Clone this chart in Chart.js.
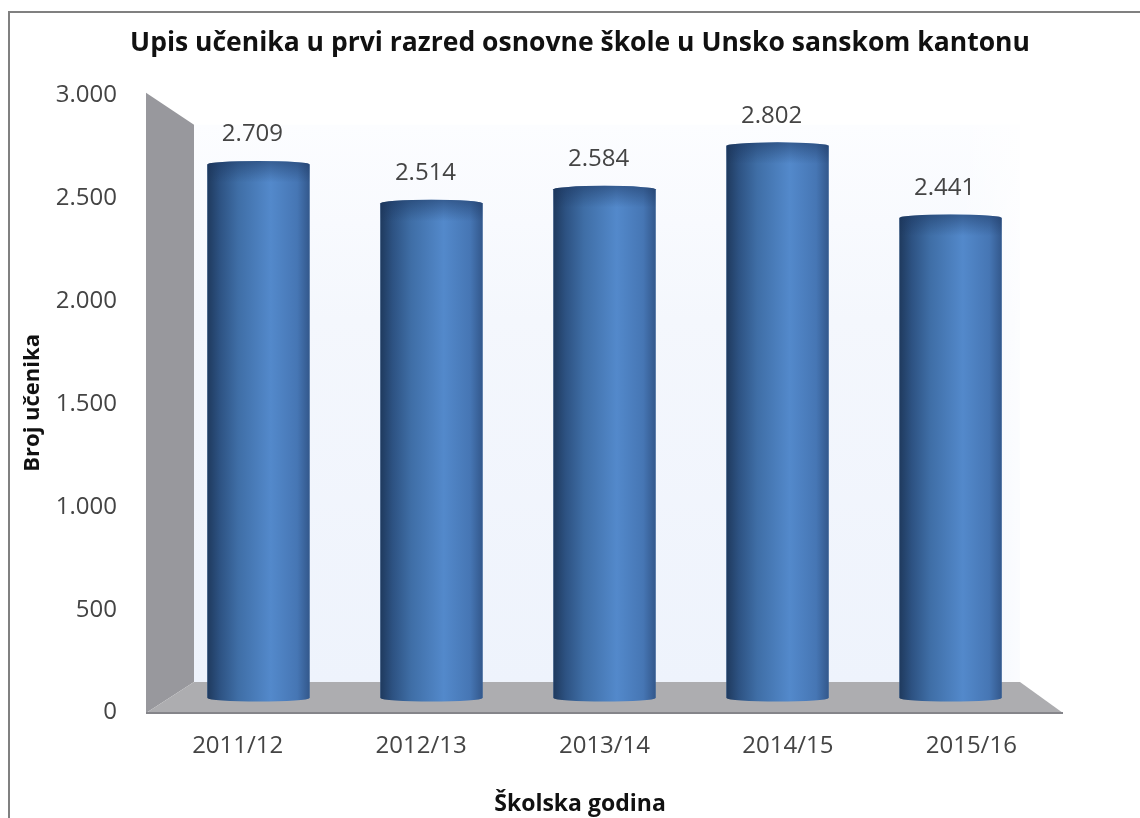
<!DOCTYPE html>
<html><head><meta charset="utf-8">
<style>html,body{margin:0;padding:0;background:#fff}#w{position:relative;width:1140px;height:818px;overflow:hidden}canvas{display:block}</style>
<script src="https://cdn.jsdelivr.net/npm/chart.js@4"></script></head>
<body><div id="w"><canvas id="c" width="1140" height="818"></canvas></div>
<script>
const categories = ["2011/12","2012/13","2013/14","2014/15","2015/16"];
const enrolment = [2709,2514,2584,2802,2441];
const tickValues = [0,500,1000,1500,2000,2500,3000];
const chartTitle = "Upis učenika u prvi razred osnovne škole u Unsko sanskom kantonu";
const yTitle = "Broj učenika";
const xTitle = "Školska godina";
const fmt = v => String(v).replace(/\B(?=(\d{3})+$)/g,".");
const FONT = "'Open Sans'";

const walls = {
  id:'walls',
  beforeDatasetsDraw(ch){
    const g=ch.ctx,a=ch.chartArea,
      L=a.left,R=a.right,bL=L+48,bR=R-43,B=a.bottom,T=a.top,fl=31,tp=32;
    const back=g.createLinearGradient(0,T+tp,0,B-fl);
    back.addColorStop(0,'#fcfdff');back.addColorStop(.35,'#f4f7fd');back.addColorStop(1,'#eef3fc');
    g.fillStyle=back;g.fillRect(bL,T+tp,bR-bL,B-fl-T-tp);
    const fade=g.createLinearGradient(bR-60,0,bR,0);
    fade.addColorStop(0,'rgba(255,255,255,0)');fade.addColorStop(1,'rgba(255,255,255,.75)');
    g.fillStyle=fade;g.fillRect(bR-60,T+tp,60,B-fl-T-tp);
    g.fillStyle='#98989d';
    g.beginPath();g.moveTo(L,T);g.lineTo(bL,T+tp);g.lineTo(bL,B-fl);g.lineTo(L,B);g.closePath();g.fill();
    g.fillStyle='#adadb0';
    g.beginPath();g.moveTo(bL,B-fl);g.lineTo(bR,B-fl);g.lineTo(R,B);g.lineTo(L,B);g.closePath();g.fill();
    g.strokeStyle='#85858a';g.lineWidth=2;
    g.beginPath();g.moveTo(L,B);g.lineTo(R,B);g.stroke();
  }
};
const cylinders = {
  id:'cylinders',
  afterDatasetsDraw(ch){
    const g=ch.ctx,m=ch.getDatasetMeta(0);
    m.data.forEach((b,i)=>{
      const l=b.x-b.width/2,r=b.x+b.width/2,t=b.y,bt=b.base,ry=3.5;
      const h=g.createLinearGradient(l,0,r,0);
      h.addColorStop(0,'#1f3a5e');h.addColorStop(.12,'#2d5282');h.addColorStop(.3,'#3f6ea6');
      h.addColorStop(.62,'#5389cb');h.addColorStop(.88,'#4676b4');h.addColorStop(1,'#33588c');
      g.beginPath();
      g.moveTo(l,t);g.ellipse(b.x,t,b.width/2,ry,0,Math.PI,2*Math.PI);
      g.lineTo(r,bt);g.ellipse(b.x,bt,b.width/2,ry,0,0,Math.PI);g.closePath();
      g.fillStyle=h;g.fill();
      const v=g.createLinearGradient(0,t-ry,0,t+18);
      v.addColorStop(0,'rgba(25,50,90,.5)');v.addColorStop(1,'rgba(25,50,90,0)');
      g.fillStyle=v;g.beginPath();
      g.moveTo(l,t);g.ellipse(b.x,t,b.width/2,ry,0,Math.PI,2*Math.PI);
      g.lineTo(r,t+18);g.lineTo(l,t+18);g.closePath();g.fill();
      g.fillStyle='#444';g.font="24px "+FONT;g.textAlign='center';g.textBaseline='middle';
      g.fillText(fmt(enrolment[i]),b.x-6,t-30);
    });
    g.fillStyle='#111';g.font="bold 23px "+FONT;g.textAlign='center';g.textBaseline='middle';
    g.fillText(xTitle,580,804);
  }
};
const frame = {
  id:'frame',
  beforeDraw(ch){
    const g=ch.ctx;g.fillStyle='#fff';g.fillRect(0,0,1140,818);
    g.strokeStyle='#808080';g.lineWidth=2;
    g.beginPath();g.moveTo(9,818);g.lineTo(9,12);g.lineTo(1140,12);g.stroke();
  }
};
new Chart(document.getElementById('c'),{
  type:'bar',
  data:{labels:categories,datasets:[{data:enrolment.map((v,i)=>({x:i,y:v})),xAxisID:'xBar',yAxisID:'yBar',base:34,backgroundColor:'#3f6ea6',barPercentage:.59,categoryPercentage:1}]},
  plugins:[frame,walls,cylinders],
  options:{
    responsive:false,animation:false,events:[],
    layout:{padding:{left:20,top:28,right:0,bottom:0}},
    plugins:{legend:{display:false},tooltip:{enabled:false},
      title:{display:true,text:chartTitle,color:'#111',font:{family:FONT,size:26.5,weight:'bold'},padding:{top:0,bottom:33}}},
    scales:{
      x:{type:'category',offset:true,grid:{display:false},border:{display:false},
        afterFit(s){s.height=105;},
        ticks:{color:'#444',font:{family:FONT,size:24},padding:11,maxRotation:0}},
      xBar:{type:'linear',display:false,offset:false,min:-.65,max:4.65,
        afterBuildTicks(s){s.ticks=categories.map((c,i)=>({value:i}));}},
      y:{position:'left',min:-2,max:3012,grid:{display:false},border:{display:false},
        afterBuildTicks(s){s.ticks=tickValues.map(v=>({value:v}));},
        afterFit(s){s.width=126;},
        ticks:{color:'#444',font:{family:FONT,size:24},padding:21,callback:v=>fmt(v)},
        title:{display:true,text:yTitle,color:'#111',font:{family:FONT,size:22,weight:'bold'},padding:{top:0,bottom:0}}},
      yRight:{position:'right',grid:{display:false},border:{display:false},ticks:{display:false},afterFit(s){s.width=77;}},
      yBar:{display:false,min:-41,max:3068}
    }
  }
});
</script></body></html>
